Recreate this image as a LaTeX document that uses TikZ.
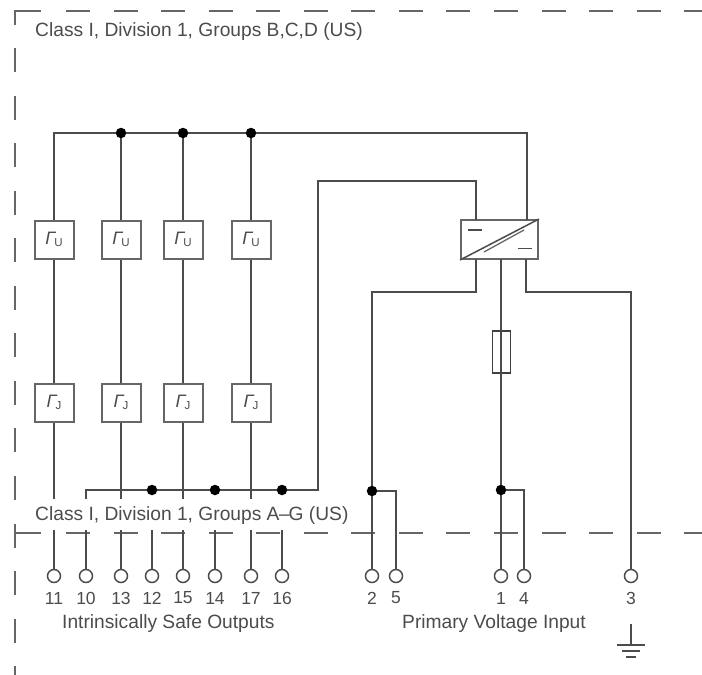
\documentclass[tikz,border=0pt]{standalone}
\usepackage{fontspec}
\setmainfont{Liberation Sans}
\definecolor{wire}{gray}{0.3}
\definecolor{ink}{gray}{0.3}
\tikzset{
  x=1pt,y=-1pt,
  wire/.style={draw=wire,line width=1.7pt},
  border/.style={draw=black!60,line width=1.8pt,dash pattern=on 24pt off 23.55pt},
  blockbox/.style={draw=black!60,line width=2pt,fill=white,minimum width=39pt,minimum height=38pt,inner sep=0pt},
  term/.style={circle,draw=wire,line width=1.5pt,fill=white,minimum size=13pt,inner sep=0pt},
  junction/.style={circle,fill=black,minimum size=10.5pt,inner sep=0pt},
  lab/.style={text=ink,font=\fontsize{19.2}{22}\selectfont,inner sep=0pt},
  numlab/.style={text=ink,font=\fontsize{17.5}{20}\selectfont,inner sep=0pt},
}
\newcommand{\limsym}[1]{\textcolor{ink}{\textit{\fontsize{18}{18}\selectfont\char"0393 }\kern-2pt\raisebox{-2.5pt}{\fontsize{11.5}{11.5}\selectfont #1}}}
\begin{document}
\begin{tikzpicture}
\useasboundingbox (0,0) rectangle (702,675);
\fill[white] (0,0) rectangle (702,675);
% zone borders
\coordinate (c0) at (15,11);
\coordinate (c1) at (41,11);
\coordinate (c2) at (15,25);
\coordinate (tl) at (66,11); \coordinate (tr) at (702,11);
\coordinate (lt) at (15,48); \coordinate (lb) at (15,675);
\coordinate (ml) at (66,533); \coordinate (mr) at (702,533);
\coordinate (m0) at (15,533); \coordinate (m1) at (41,533);
\draw[border] (tl) -- (tr);
\draw[border] (lt) -- (lb);
\draw[border] (ml) -- (mr);
\draw[draw=black!60,line width=1.8pt] (c2) -- (c0) -- (c1);
\draw[draw=black!60,line width=1.8pt] (m0) -- (m1);
% terminals
\foreach \x/\t in {54/11,86/10,121/13,152/12,183/15,215/14,251/17,282/16,372/2,396/5,501/1,524/4,631/3}{
  \node[term] (t\t) at (\x,576) {};
  \node[numlab] (n\t) at (\x,598) {\t};
}
% blocks
\foreach \n/\x in {a/54,c/121,e/183,g/251}{
  \node[blockbox] (u\n) at (\x,239.5) {\limsym{U}};
  \node[blockbox] (j\n) at (\x,402.5) {\limsym{J}};
  \coordinate (top\n) at (\x,133);
  \coordinate (bus\n) at (\x,499);
  \coordinate (low\n) at (\x,530);
}
\node[draw=black!60,line width=2pt,fill=white,minimum width=77pt,minimum height=39pt,inner sep=0pt] (conv) at (499.5,239.5) {};
\node[draw=black!75,line width=1.3pt,minimum width=18pt,minimum height=42pt,inner sep=0pt] (fuse) at (501.5,352) {};
% top bus
\coordinate (bus1) at (527,133);
\coordinate (busend) at (527,220);
\draw[wire] (ua.north) -- (topa) -- (bus1) -- (busend);
\foreach \n in {c,e,g} \draw[wire] (top\n) -- (u\n.north);
\foreach \n in {a,c,e,g} {
  \draw[wire] (u\n.south) -- (j\n.north);
  \draw[wire] (j\n.south) -- (bus\n);
}
\draw[wire] (lowa) -- (t11.north);
\draw[wire] (lowc) -- (t13.north);
\draw[wire] (lowe) -- (t15.north);
\draw[wire] (lowg) -- (t17.north);
% lower bus
\coordinate (b0) at (86,499);
\coordinate (b1) at (86,490);
\coordinate (b2) at (318,490);
\coordinate (b3) at (318,181);
\coordinate (b4) at (476,181);
\coordinate (b5) at (476,220);
\coordinate (b6) at (86,530);
\draw[wire,line width=1.5pt] (b0) -- (b1) -- (b2) -- (b3) -- (b4) -- (b5);
\draw[wire] (b6) -- (t10.north);
\foreach \x/\t in {152/12,215/14,282/16}{
  \node[junction] (jn\t) at (\x,490) {};
  \coordinate (l\t) at (\x,530);
  \draw[wire] (l\t) -- (t\t.north);
}
\foreach \x in {121,183,251} \node[junction] at (\x,133) {};
% converter
\draw[draw=black!70,line width=1.5pt] (conv.south west) -- (conv.north east);
\draw[draw=black!60,line width=1.3pt] (484,252) -- (524,230);
\draw[draw=black!70,line width=1.4pt] (468,230) -- (482,230);
\draw[draw=black!70,line width=1.4pt] (518,248.5) -- (532,248.5);
% primary wiring
\coordinate (p0) at (476,259); \coordinate (p1) at (476,292); \coordinate (p2) at (372,292);
\coordinate (p3) at (501,259);
\coordinate (p4) at (526,259); \coordinate (p5) at (526,292); \coordinate (p6) at (631,292);
\coordinate (q5) at (396,491); \coordinate (q4) at (524,490);
\coordinate (ji0) at (372,491); \coordinate (jk0) at (501,490);
\draw[wire] (p0) -- (p1) -- (p2) -- (t2.north);
\draw[wire] (ji0) -- (q5) -- (t5.north);
\draw[wire] (p3) -- (t1.north);
\draw[wire] (jk0) -- (q4) -- (t4.north);
\draw[wire] (p4) -- (p5) -- (p6) -- (t3.north);
\node[junction] (ji) at (ji0) {};
\node[junction] (jk) at (jk0) {};
% ground
\coordinate (g0) at (631,624); \coordinate (g1) at (631,645);
\coordinate (ga) at (617,645); \coordinate (gb) at (645,645);
\coordinate (gc) at (622,651); \coordinate (gd) at (640,651);
\coordinate (ge) at (626,657); \coordinate (gf) at (636,657);
\draw[wire,line width=1.5pt] (g0) -- (g1);
\draw[wire,line width=1.5pt] (ga) -- (gb);
\draw[wire,line width=1.4pt] (gc) -- (gd);
\draw[wire,line width=1.4pt] (ge) -- (gf);
% labels
\node[lab,anchor=west] (l1) at (35,32) {Class I, Division 1, Groups B,C,D (US)};
\node[lab,anchor=west] (l2) at (35,516) {Class I, Division 1, Groups A\kern-0.5pt–\kern-1pt G (US)};
\node[lab,anchor=west] (l3) at (62,624) {Intrinsically Safe Outputs};
\node[lab,anchor=west] (l4) at (402,624) {Primary Voltage Input};
\end{tikzpicture}
\end{document}
